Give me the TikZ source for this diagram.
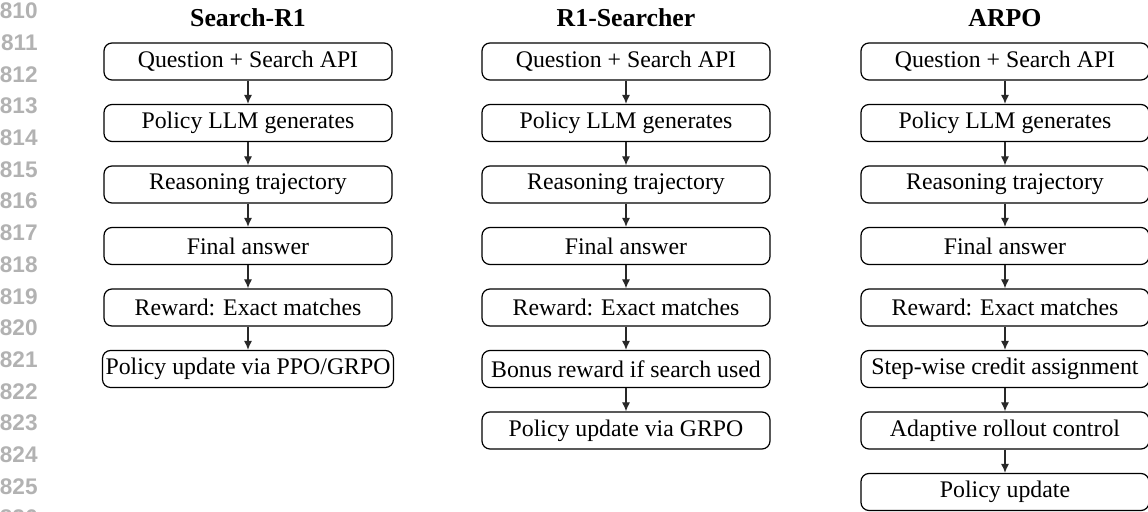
\documentclass[tikz,border=0pt]{standalone}
\usepackage{fontspec}
\setmainfont{Liberation Serif}
\newfontfamily\linenofont{Liberation Sans}
\usepackage{xcolor}
\usetikzlibrary{arrows.meta}
\definecolor{lnum}{RGB}{178, 178, 178}
\definecolor{arr}{RGB}{40, 40, 40}

\tikzset{
  stepbox/.style={draw, rounded corners=4pt, line width=0.6pt, minimum width=144pt,
    minimum height=18.5pt, inner xsep=1.5pt, inner ysep=0pt,
    font=\fontsize{11.9}{14}\selectfont},
  colhead/.style={anchor=base, font=\fontsize{12.9}{15}\selectfont\bfseries},
  lno/.style={anchor=east, inner sep=0pt, text=lnum, font=\linenofont\fontsize{11.3}{13}\selectfont\bfseries},
  flow/.style={-{Latex[length=4.5pt, width=4pt]}, color=arr, line width=0.6pt}
}

\begin{document}
\begin{tikzpicture}[x=0.5pt, y=-0.5pt]
      \useasboundingbox (0,0) rectangle (1148,512);
      \clip (0,0) rectangle (1148,512);
      % line numbers
      \node[lno] (l810) at (38, 11) {810};
      \node[lno] (l811) at (38, 42.7) {811};
      \node[lno] (l812) at (38, 74.4) {812};
      \node[lno] (l813) at (38, 106.1) {813};
      \node[lno] (l814) at (38, 137.8) {814};
      \node[lno] (l815) at (38, 169.5) {815};
      \node[lno] (l816) at (38, 201.2) {816};
      \node[lno] (l817) at (38, 232.9) {817};
      \node[lno] (l818) at (38, 264.6) {818};
      \node[lno] (l819) at (38, 296.3) {819};
      \node[lno] (l820) at (38, 328) {820};
      \node[lno] (l821) at (38, 359.7) {821};
      \node[lno] (l822) at (38, 391.4) {822};
      \node[lno] (l823) at (38, 423.1) {823};
      \node[lno] (l824) at (38, 454.8) {824};
      \node[lno] (l825) at (38, 486.5) {825};
      \node[lno] (l826) at (38, 518.2) {826};

      % Search-R1
      \node[colhead] (sTitle) at (248, 27) {Search-R1};
      \node[stepbox] (s1) at (248, 61.5) {Question + Search API};
      \node[stepbox] (s2) at (248, 123) {Policy LLM generates};
      \node[stepbox] (s3) at (248, 184.5) {Reasoning trajectory};
      \node[stepbox] (s4) at (248, 246) {Final answer};
      \node[stepbox] (s5) at (248, 307.5) {Reward: Exact matches};
      \node[stepbox] (s6) at (248, 369) {Policy update via PPO/GRPO};
      \draw[flow] (s1)--(s2);
      \draw[flow] (s2)--(s3);
      \draw[flow] (s3)--(s4);
      \draw[flow] (s4)--(s5);
      \draw[flow] (s5)--(s6);

      % R1-Searcher
      \node[colhead] (rTitle) at (626, 27) {R1-Searcher};
      \node[stepbox] (r1) at (626, 61.5) {Question + Search API};
      \node[stepbox] (r2) at (626, 123) {Policy LLM generates};
      \node[stepbox] (r3) at (626, 184.5) {Reasoning trajectory};
      \node[stepbox] (r4) at (626, 246) {Final answer};
      \node[stepbox] (r5) at (626, 307.5) {Reward: Exact matches};
      \node[stepbox] (r6) at (626, 369) {Bonus reward if search used};
      \node[stepbox] (r7) at (626, 430.5) {Policy update via GRPO};
      \draw[flow] (r1)--(r2);
      \draw[flow] (r2)--(r3);
      \draw[flow] (r3)--(r4);
      \draw[flow] (r4)--(r5);
      \draw[flow] (r5)--(r6);
      \draw[flow] (r6)--(r7);

      % ARPO
      \node[colhead] (aTitle) at (1005, 27) {ARPO};
      \node[stepbox] (a1) at (1005, 61.5) {Question + Search API};
      \node[stepbox] (a2) at (1005, 123) {Policy LLM generates};
      \node[stepbox] (a3) at (1005, 184.5) {Reasoning trajectory};
      \node[stepbox] (a4) at (1005, 246) {Final answer};
      \node[stepbox] (a5) at (1005, 307.5) {Reward: Exact matches};
      \node[stepbox] (a6) at (1005, 369) {Step-wise credit assignment};
      \node[stepbox] (a7) at (1005, 430.5) {Adaptive rollout control};
      \node[stepbox] (a8) at (1005, 492) {Policy update};
      \draw[flow] (a1)--(a2);
      \draw[flow] (a2)--(a3);
      \draw[flow] (a3)--(a4);
      \draw[flow] (a4)--(a5);
      \draw[flow] (a5)--(a6);
      \draw[flow] (a6)--(a7);
      \draw[flow] (a7)--(a8);
    \end{tikzpicture}
\end{document}
